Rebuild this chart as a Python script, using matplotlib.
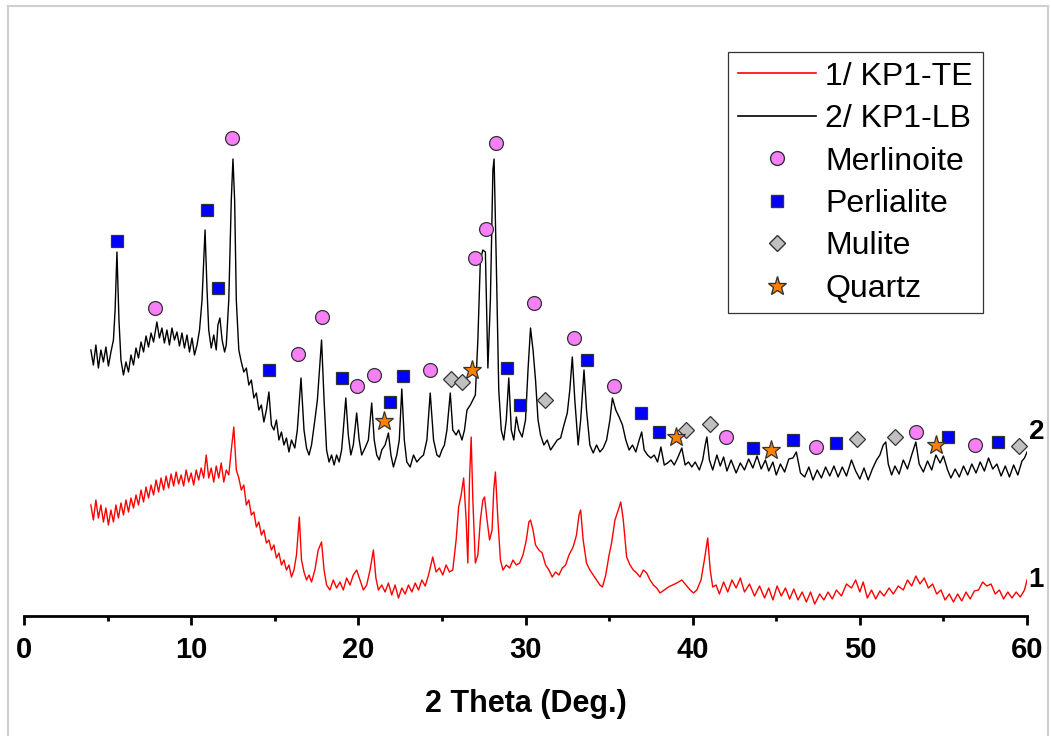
import matplotlib
matplotlib.use("Agg")
import matplotlib.pyplot as plt
from matplotlib.lines import Line2D
from matplotlib.patches import Rectangle
from matplotlib.ticker import MultipleLocator

plt.rcParams['font.family'] = ['Liberation Sans', 'DejaVu Sans']

# --- pattern 2: KP1-LB (black), intensity in arbitrary units
two_theta_lb = [
    4.0, 4.15, 4.3, 4.45, 4.6, 4.75, 4.9, 5.05, 5.2, 5.35, 5.45, 5.56, 5.68, 5.8, 5.95,
    6.1, 6.25, 6.4, 6.55, 6.7, 6.85, 7.0, 7.15, 7.3, 7.45, 7.6, 7.75, 7.95, 8.1, 8.25,
    8.4, 8.55, 8.7, 8.85, 9.0, 9.15, 9.3, 9.45, 9.6, 9.75, 9.9, 10.05, 10.2, 10.35, 10.5,
    10.65, 10.83, 10.95, 11.05, 11.2, 11.35, 11.5, 11.6, 11.72, 11.85, 12.0, 12.1, 12.25, 12.4, 12.5,
    12.6, 12.7, 12.85, 13.0, 13.15, 13.3, 13.45, 13.6, 13.75, 13.9, 14.05, 14.2, 14.35, 14.5, 14.65,
    14.8, 14.95, 15.1, 15.25, 15.4, 15.55, 15.7, 15.85, 16.0, 16.2, 16.35, 16.57, 16.75, 16.9, 17.05,
    17.2, 17.4, 17.55, 17.8, 17.95, 18.1, 18.25, 18.4, 18.55, 18.7, 18.85, 19.0, 19.1, 19.25, 19.4,
    19.55, 19.7, 19.9, 20.05, 20.2, 20.4, 20.6, 20.8, 20.95, 21.1, 21.25, 21.4, 21.6, 21.8, 21.95,
    22.1, 22.3, 22.45, 22.6, 22.75, 22.9, 23.1, 23.3, 23.5, 23.7, 23.9, 24.1, 24.3, 24.5, 24.7,
    24.85, 25.0, 25.15, 25.3, 25.5, 25.65, 25.85, 26.0, 26.2, 26.35, 26.5, 26.7, 26.85, 27.0, 27.15,
    27.3, 27.45, 27.6, 27.75, 27.9, 28.05, 28.12, 28.25, 28.4, 28.55, 28.7, 28.85, 29.0, 29.15, 29.3,
    29.45, 29.6, 29.8, 30.0, 30.15, 30.3, 30.45, 30.6, 30.75, 30.9, 31.1, 31.3, 31.5, 31.7, 31.9,
    32.1, 32.3, 32.5, 32.65, 32.8, 32.95, 33.15, 33.3, 33.5, 33.65, 33.85, 34.05, 34.25, 34.45, 34.65,
    34.85, 35.05, 35.2, 35.4, 35.6, 35.8, 36.0, 36.2, 36.4, 36.6, 36.8, 36.95, 37.1, 37.3, 37.5,
    37.7, 37.9, 38.1, 38.3, 38.5, 38.7, 38.9, 39.1, 39.35, 39.55, 39.75, 39.95, 40.15, 40.4, 40.6,
    40.75, 40.85, 41.0, 41.2, 41.45, 41.65, 41.85, 42.05, 42.3, 42.6, 42.85, 43.1, 43.35, 43.6, 43.85,
    44.1, 44.35, 44.55, 44.8, 45.0, 45.25, 45.5, 45.75, 46.0, 46.2, 46.45, 46.7, 46.95, 47.2, 47.45,
    47.7, 47.95, 48.2, 48.45, 48.7, 48.95, 49.2, 49.5, 49.75, 50.0, 50.25, 50.5, 50.75, 51.0, 51.2,
    51.4, 51.55, 51.7, 51.9, 52.1, 52.35, 52.6, 52.85, 53.1, 53.35, 53.55, 53.8, 54.05, 54.3, 54.55,
    54.8, 55.0, 55.25, 55.45, 55.7, 55.95, 56.2, 56.45, 56.7, 56.95, 57.2, 57.45, 57.7, 57.95, 58.2,
    58.45, 58.7, 58.95, 59.2, 59.45, 59.7, 59.85, 60.0,
]
intensity_lb = [
    266, 251, 271, 248, 266, 254, 269, 250, 264, 276, 306, 364, 296, 256, 241,
    254, 244, 261, 251, 268, 258, 274, 264, 280, 269, 283, 274, 294, 278, 288,
    273, 286, 271, 288, 276, 284, 270, 283, 268, 281, 264, 278, 261, 271, 286,
    316, 386, 326, 286, 268, 281, 266, 291, 298, 276, 264, 271, 316, 416, 457,
    416, 316, 266, 254, 244, 248, 231, 236, 218, 223, 206, 211, 194, 206, 224,
    191, 186, 196, 176, 184, 171, 178, 164, 176, 168, 186, 238, 186, 168, 161,
    171, 196, 216, 276, 216, 166, 154, 161, 151, 161, 154, 166, 186, 218, 181,
    161, 171, 203, 176, 161, 168, 176, 213, 176, 161, 156, 166, 171, 183, 161,
    149, 161, 176, 227, 176, 154, 149, 161, 154, 158, 161, 176, 223, 176, 161,
    159, 166, 171, 186, 223, 186, 181, 186, 176, 186, 206, 211, 216, 221, 276,
    356, 366, 364, 248, 316, 446, 457, 356, 226, 186, 176, 196, 238, 186, 176,
    199, 186, 179, 196, 246, 288, 266, 236, 196, 181, 171, 176, 166, 171, 176,
    178, 191, 203, 226, 259, 216, 171, 196, 246, 206, 171, 163, 171, 164, 168,
    176, 196, 218, 206, 199, 191, 176, 166, 171, 164, 176, 184, 166, 161, 158,
    161, 154, 169, 151, 153, 156, 151, 158, 168, 151, 154, 149, 154, 146, 156,
    171, 179, 156, 146, 161, 150, 159, 145, 156, 143, 153, 146, 157, 148, 160,
    147, 156, 145, 154, 141, 152, 144, 157, 158, 164, 143, 139, 149, 136, 146,
    138, 149, 140, 150, 139, 149, 140, 156, 145, 137, 148, 136, 147, 156, 161,
    171, 174, 152, 141, 150, 142, 156, 147, 161, 174, 152, 144, 155, 146, 161,
    153, 160, 146, 138, 147, 139, 150, 141, 152, 143, 154, 145, 158, 147, 152,
    140, 150, 139, 151, 141, 155, 158, 164,
]

# --- pattern 1: KP1-TE (red)
two_theta_te = [
    4.0, 4.15, 4.3, 4.45, 4.6, 4.75, 4.9, 5.05, 5.2, 5.35, 5.5, 5.65, 5.8, 5.95, 6.1,
    6.25, 6.4, 6.55, 6.7, 6.85, 7.0, 7.15, 7.3, 7.45, 7.6, 7.75, 7.9, 8.05, 8.2, 8.35,
    8.5, 8.65, 8.8, 8.95, 9.1, 9.25, 9.4, 9.55, 9.7, 9.85, 10.0, 10.15, 10.3, 10.45, 10.6,
    10.75, 10.9, 11.05, 11.2, 11.35, 11.5, 11.65, 11.8, 11.95, 12.1, 12.25, 12.4, 12.55, 12.7, 12.85,
    13.0, 13.15, 13.3, 13.45, 13.6, 13.75, 13.9, 14.05, 14.2, 14.35, 14.5, 14.65, 14.8, 14.95, 15.1,
    15.25, 15.4, 15.55, 15.7, 15.85, 16.0, 16.15, 16.3, 16.47, 16.6, 16.75, 16.9, 17.05, 17.2, 17.4,
    17.6, 17.8, 17.95, 18.1, 18.3, 18.5, 18.7, 18.9, 19.1, 19.3, 19.5, 19.7, 19.9, 20.1, 20.3,
    20.5, 20.7, 20.9, 21.05, 21.2, 21.4, 21.6, 21.8, 22.0, 22.2, 22.4, 22.6, 22.8, 23.0, 23.2,
    23.4, 23.6, 23.8, 24.0, 24.2, 24.45, 24.65, 24.85, 25.05, 25.25, 25.45, 25.65, 25.85, 26.0, 26.15,
    26.3, 26.45, 26.55, 26.65, 26.75, 26.85, 27.0, 27.15, 27.3, 27.45, 27.55, 27.7, 27.85, 28.0, 28.1,
    28.2, 28.35, 28.5, 28.65, 28.85, 29.05, 29.25, 29.45, 29.65, 29.85, 30.05, 30.2, 30.3, 30.45, 30.6,
    30.8, 31.0, 31.2, 31.4, 31.6, 31.8, 32.0, 32.2, 32.4, 32.6, 32.85, 33.05, 33.2, 33.3, 33.45,
    33.65, 33.85, 34.05, 34.25, 34.45, 34.6, 34.8, 35.0, 35.15, 35.35, 35.55, 35.7, 35.85, 36.05, 36.25,
    36.45, 36.65, 36.85, 37.05, 37.25, 37.45, 37.65, 37.85, 38.05, 38.3, 38.55, 38.8, 39.05, 39.35, 39.6,
    39.85, 40.05, 40.25, 40.5, 40.7, 40.9, 41.05, 41.2, 41.4, 41.6, 41.85, 42.1, 42.35, 42.6, 42.85,
    43.1, 43.4, 43.7, 44.0, 44.3, 44.55, 44.8, 45.05, 45.3, 45.55, 45.8, 46.05, 46.3, 46.55, 46.8,
    47.05, 47.3, 47.6, 47.85, 48.1, 48.35, 48.6, 48.9, 49.2, 49.5, 49.75, 50.0, 50.2, 50.45, 50.7,
    50.95, 51.2, 51.45, 51.75, 52.0, 52.3, 52.6, 52.85, 53.1, 53.35, 53.6, 53.85, 54.1, 54.35, 54.6,
    54.85, 55.1, 55.35, 55.6, 55.85, 56.1, 56.35, 56.6, 56.85, 57.1, 57.35, 57.6, 57.85, 58.1, 58.35,
    58.6, 58.85, 59.1, 59.35, 59.6, 59.85, 60.0,
]
intensity_te = [
    111, 96, 116, 98, 111, 94, 108, 91, 106, 94, 111, 98, 113, 101, 116,
    104, 118, 108, 121, 111, 126, 114, 129, 118, 131, 121, 136, 124, 138, 126,
    140, 128, 142, 130, 144, 132, 141, 130, 146, 134, 143, 131, 146, 136, 148,
    138, 161, 138, 148, 134, 150, 138, 153, 134, 146, 141, 166, 189, 146, 138,
    126, 131, 111, 116, 101, 104, 89, 94, 81, 86, 73, 76, 66, 71, 58,
    63, 51, 56, 46, 51, 39, 46, 61, 99, 56, 44, 36, 41, 34, 46,
    66, 74, 46, 31, 26, 36, 28, 34, 26, 38, 31, 41, 46, 36, 26,
    31, 46, 66, 38, 26, 31, 24, 33, 21, 31, 18, 28, 22, 31, 24,
    33, 26, 36, 30, 41, 59, 44, 48, 41, 51, 44, 46, 76, 109, 121,
    138, 96, 53, 136, 179, 116, 53, 61, 96, 116, 119, 96, 76, 86, 126,
    144, 96, 56, 46, 51, 48, 56, 51, 53, 61, 76, 94, 96, 86, 71,
    66, 63, 51, 46, 39, 44, 41, 48, 51, 61, 69, 81, 101, 106, 76,
    53, 46, 41, 36, 31, 29, 41, 61, 73, 96, 106, 114, 96, 59, 51,
    46, 43, 39, 46, 43, 36, 31, 28, 23, 26, 29, 31, 33, 36, 31,
    26, 23, 26, 36, 56, 78, 46, 29, 31, 22, 34, 24, 36, 28, 38,
    24, 32, 20, 30, 18, 28, 16, 30, 20, 28, 17, 27, 16, 24, 14,
    24, 12, 22, 16, 24, 17, 26, 20, 32, 28, 36, 24, 34, 18, 26,
    17, 25, 20, 28, 22, 30, 26, 36, 30, 40, 32, 38, 28, 32, 22,
    26, 16, 22, 14, 22, 15, 24, 17, 25, 26, 34, 30, 32, 22, 26,
    17, 24, 18, 24, 19, 26, 36,
]

# --- phase markers (2 theta, height above the trace)
merlinoite_x = [7.83, 12.44, 16.39, 17.82, 19.92, 20.93, 24.28, 26.97, 27.63, 28.23,
                30.5, 32.9, 35.29, 41.99, 47.37, 53.35, 56.88]
merlinoite_y = [308, 478, 262, 299, 230, 241, 246, 358, 387, 473,
                313, 278, 230, 179, 169, 184, 171]
perlialite_x = [5.56, 10.94, 11.6, 14.65, 19.02, 21.89, 22.67, 28.89, 29.67, 33.67,
                36.9, 37.98, 43.6, 45.99, 48.56, 55.26, 58.25]
perlialite_y = [375, 406, 328, 246, 238, 214, 240, 248, 211, 256,
                203, 184, 168, 176, 173, 179, 174]
mulite_x = [25.54, 26.2, 31.16, 39.6, 41.03, 49.82, 52.09, 59.51]
mulite_y = [237, 234, 216, 186, 192, 177, 179, 170]
quartz_x = [21.53, 26.79, 39.0, 44.68, 54.55]
quartz_y = [195, 246, 179, 166, 171]

fig = plt.figure(figsize=(10.51, 7.36), dpi=100)
ax = fig.add_axes([24 / 1051, 120 / 736, 1003 / 1051, 606 / 736])

ax.plot(two_theta_te, intensity_te, color='#ff0000', lw=1.0, label='1/ KP1-TE')
ax.plot(two_theta_lb, intensity_lb, color='black', lw=1.0, label='2/ KP1-LB')

mk = dict(ls='none', markeredgecolor='#333333', markeredgewidth=0.9, clip_on=False)
ax.plot(merlinoite_x, merlinoite_y, marker='o', ms=10, color='#f77ff7', **mk)
ax.plot(perlialite_x, perlialite_y, marker='s', ms=9, color='#0000ff', **mk)
ax.plot(mulite_x, mulite_y, marker='D', ms=8, color='#c0c0c0', **mk)
ax.plot(quartz_x, quartz_y, marker='*', ms=14, color='#ff8000', **mk)

ax.text(60.1, 184, '2', fontsize=20, fontweight='bold', ha='left', va='center', clip_on=False)
ax.text(60.1, 36, '1', fontsize=20, fontweight='bold', ha='left', va='center', clip_on=False)

ax.set_xlim(0, 60)
ax.set_ylim(0, 606)
for side in ['left', 'right', 'top']:
    ax.spines[side].set_visible(False)
ax.spines['bottom'].set_linewidth(2)
ax.set_yticks([])
ax.xaxis.set_major_locator(MultipleLocator(10))
ax.xaxis.set_minor_locator(MultipleLocator(5))
ax.tick_params(axis='x', which='major', direction='out', length=6.5, width=2, pad=8,
               labelsize=21)
ax.tick_params(axis='x', which='minor', direction='out', length=3.5, width=2)
for lab in ax.get_xticklabels():
    lab.set_fontweight('bold')
ax.set_xlabel('2 Theta (Deg.)', fontsize=22, fontweight='bold', labelpad=18)

handles = [
    Line2D([], [], color='#ff0000', lw=1.2),
    Line2D([], [], color='black', lw=1.2),
    Line2D([], [], ls='none', marker='o', ms=10, color='#f77ff7', markeredgecolor='#333333'),
    Line2D([], [], ls='none', marker='s', ms=9, color='#0000ff', markeredgecolor='#333333'),
    Line2D([], [], ls='none', marker='D', ms=8, color='#c0c0c0', markeredgecolor='#333333'),
    Line2D([], [], ls='none', marker='*', ms=14, color='#ff8000', markeredgecolor='#333333'),
]
labels = ['1/ KP1-TE', '2/ KP1-LB', 'Merlinoite', 'Perlialite', 'Mulite', 'Quartz']
leg = fig.legend(handles, labels, loc='upper left', bbox_to_anchor=(728 / 1051, 1 - 52 / 736),
                 fontsize=23, frameon=True, fancybox=False, edgecolor='black',
                 handlelength=2.45, handletextpad=0.3, labelspacing=0.39, borderpad=0.3,
                 borderaxespad=0)
leg.get_frame().set_linewidth(0.9)

# light grey border round the picture
fig.patches.append(Rectangle((8 / 1051, -0.01), 1040 / 1051, 1.01 - 6 / 736,
                             transform=fig.transFigure, fill=False,
                             edgecolor='#cfcfcf', lw=1.5))

fig.savefig('out.png', dpi=100)
